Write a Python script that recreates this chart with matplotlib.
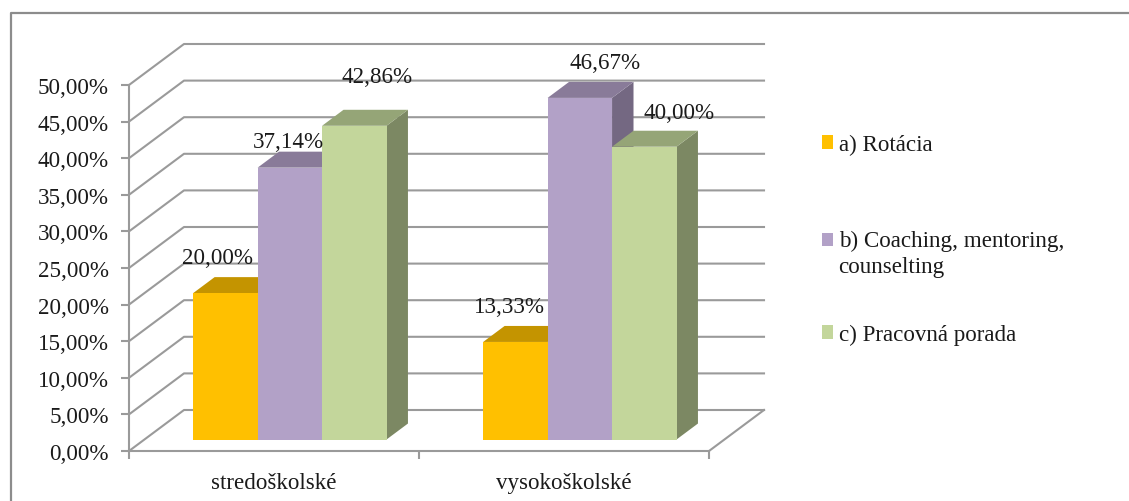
import matplotlib
matplotlib.use('Agg')
import matplotlib.pyplot as plt
from matplotlib.patches import Polygon, Patch
from matplotlib.lines import Line2D

categories = ['stredoškolské', 'vysokoškolské']
series_names = ['a) Rotácia', 'b) Coaching, mentoring,\ncounselting', 'c) Pracovná porada']
rotacia = [20.00, 13.33]
coaching = [37.14, 46.67]
porada = [42.86, 40.00]
y_ticks = [0, 5, 10, 15, 20, 25, 30, 35, 40, 45, 50]

W, H = 1129, 502
GRID = '#9a9a9a'
TEXT = '#1a1a1a'
FS = 16.6
front_colors = ['#ffc000', '#b2a1c7', '#c3d69b']
top_colors = ['#c49400', '#897b99', '#95a577']
side_colors = ['#a67d00', '#746882', '#7c8863']

plt.rcParams['font.family'] = ['Liberation Serif', 'DejaVu Serif']

fig = plt.figure(figsize=(W / 100, H / 100), dpi=100)
# outer frame, only left and top are in the picture
fig.add_artist(Line2D([11 / W, 11 / W, 1], [0, 1 - 13.5 / H, 1 - 13.5 / H],
                      transform=fig.transFigure, color='#8c8c8c', lw=1.6))

# front plane of the fake 3d box
ax = fig.add_axes([129 / W, 1 - 452 / H, (709 - 129) / W, (452 - 86) / H])
ax.set_xlim(0, 2)
ax.set_ylim(0, 50)
ax.patch.set_alpha(0)
for s in ['top', 'right']:
    ax.spines[s].set_visible(False)
for s in ['left', 'bottom']:
    ax.spines[s].set_color(GRID)
    ax.spines[s].set_linewidth(1.5)

# depth of the box: how far x and y move at the back wall
depth_x = 55 / 290
depth_y = 41 * 50 / 366


def proj(x, y, d):
    return x + d * depth_x, y + d * depth_y


for v in y_ticks:
    x0, y0 = proj(0, v, 1)
    x1, y1 = proj(2, v, 1)
    ax.plot([0, x0, x1], [v, y0, y1], color=GRID, lw=1.5, clip_on=False, zorder=1)
x0, y0 = proj(2, 0, 1)
ax.plot([2, x0], [0, y0], color=GRID, lw=1.5, clip_on=False, zorder=1)

bar_w = 1 / 4.5
d0, d1 = 0.28, 0.67
series = [rotacia, coaching, porada]


def draw_bar(x, v, i):
    a = proj(x, 0, d0)
    b = proj(x + bar_w, 0, d0)
    c = proj(x + bar_w, v, d0)
    e = proj(x, v, d0)
    ax.add_patch(Polygon([b, proj(x + bar_w, 0, d1), proj(x + bar_w, v, d1), c],
                         fc=side_colors[i], ec='none', clip_on=False, zorder=3))
    ax.add_patch(Polygon([e, c, proj(x + bar_w, v, d1), proj(x, v, d1)],
                         fc=top_colors[i], ec='none', clip_on=False, zorder=3))
    ax.add_patch(Polygon([a, b, c, e], fc=front_colors[i], ec='none', clip_on=False, zorder=3))


for g in range(len(categories)):
    # left to right, each bar covers the side face of the one before
    for i in range(3):
        draw_bar(g + 0.0015 + 0.75 * bar_w + i * bar_w, series[i][g], i)

# nudges for the value labels, the original ones are placed by hand
label_dx = [[-0.098, -0.077, 0.005], [-0.094, 0.014, 0.047]]
label_dy = [[1.2, 0.0, 3.1], [1.2, 1.2, 1.1]]
for g in range(len(categories)):
    for i in range(3):
        v = series[i][g]
        xc = g + 0.75 * bar_w + (i + 0.5) * bar_w + label_dx[g][i]
        tx, ty = proj(xc, v, d1)
        ax.text(tx, ty + label_dy[g][i], f'{v:.2f}%'.replace('.', ','), ha='center', va='bottom',
                fontsize=FS, color=TEXT, zorder=5, clip_on=False)

ax.set_yticks(y_ticks)
ax.set_yticklabels([f'{v:.2f}%'.replace('.', ',') for v in y_ticks])
ax.set_xticks([0, 1, 2])
ax.set_xticklabels([])
ax.tick_params(axis='both', color=GRID, width=1.5, length=6, labelsize=FS, labelcolor=TEXT, pad=8.5)
for i, c in enumerate(categories):
    ax.text(i + 0.5, -2.9, c, ha='center', va='top', fontsize=FS, color=TEXT)

# one legend per entry, the gaps between entries are not even in the original
legend_tops = [135, 231, 325]
for name, col, top in zip(series_names, front_colors, legend_tops):
    leg = fig.legend([Patch(fc=col, ec='none')], [name], loc='upper left',
                     bbox_to_anchor=(821.5 / W, 1 - top / H), frameon=False, fontsize=FS,
                     handlelength=0.52, handleheight=0.52, handletextpad=0.22,
                     labelcolor=TEXT, borderaxespad=0, borderpad=0)
    for t in leg.get_texts():
        t.set_linespacing(1.3)
    # two line entry: square goes next to the first line
    if '\n' in name:
        p = leg.get_patches()[0]
        p.set_y(p.get_y() + 10)

fig.savefig('out.png', dpi=100)
